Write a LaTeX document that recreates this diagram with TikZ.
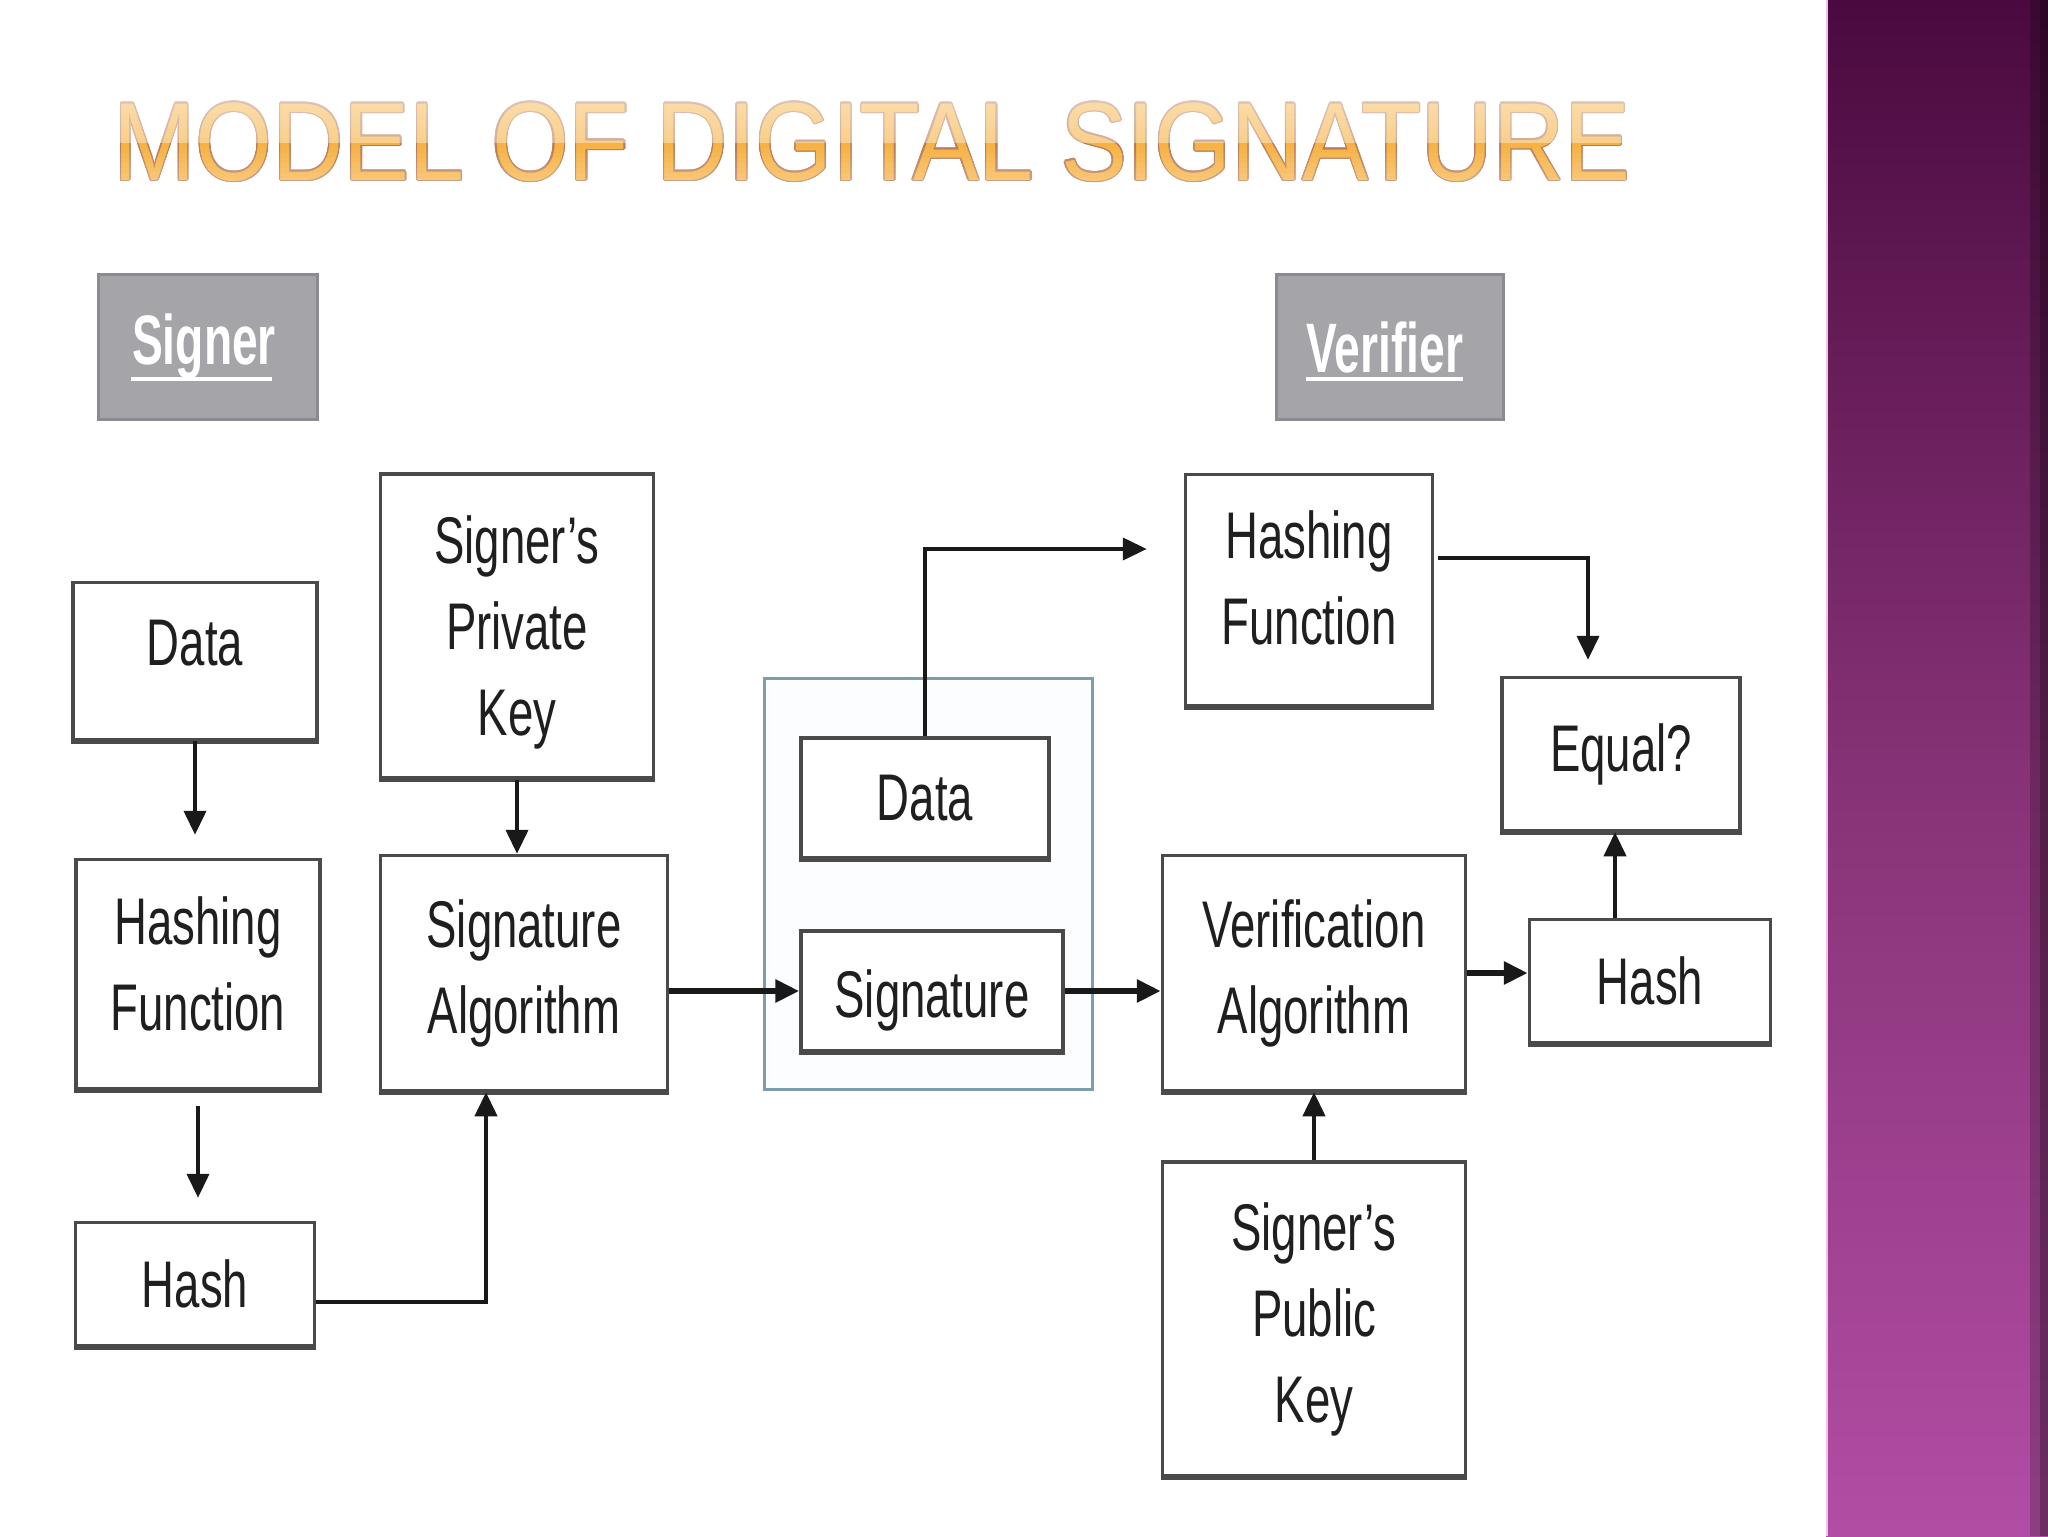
\documentclass[tikz,border=0pt]{standalone}
\usepackage{fontspec}
\usepackage{contour}
\usetikzlibrary{arrows.meta,calc}
\setmainfont{Liberation Sans}
\newfontfamily\boxfont[FakeStretch=0.69]{Liberation Sans}
\newfontfamily\tagfont[FakeStretch=0.66]{Liberation Sans}
\newfontfamily\titlefont[FakeStretch=0.89]{Liberation Sans}
\definecolor{boxline}{HTML}{4A4A4A}
\definecolor{tagfill}{HTML}{A5A4A8}
\definecolor{tagline}{HTML}{8C8B8F}
\definecolor{contline}{HTML}{7E9DAD}
\definecolor{contfill}{HTML}{FBFDFE}
\definecolor{titleor}{HTML}{F6B244}
\definecolor{titleline}{HTML}{B77A5A}
\definecolor{purpTop}{HTML}{4A0A3F}
\definecolor{purpMid}{HTML}{863276}
\definecolor{purpBot}{HTML}{B24DA4}
\definecolor{barline}{HTML}{F2C2EA}
\contourlength{0.6pt}
\begin{document}
\begin{tikzpicture}[x=0.5pt,y=-0.5pt,
  boxtext/.style={inner sep=0pt, align=center, font=\boxfont\fontsize{33}{43}\selectfont, text=black!88},
  box/.style={boxtext, draw=boxline, line width=1.75pt, fill=white},
  tag/.style={draw=tagline, line width=1.5pt, fill=tagfill, inner sep=0pt, text=white,
    font=\tagfont\bfseries\fontsize{35}{40}\selectfont},
  arr/.style={-{Triangle[length=12pt,width=11pt]}, line width=2pt, draw=black!90},
  thickarr/.style={arr, line width=3pt}]
\useasboundingbox (0,0) rectangle (2048,1536);
\fill[white] (0,0) rectangle (2048,1536);

% right purple bar
\shade[top color=purpTop, bottom color=purpBot, middle color=purpMid] (1826,0) rectangle (2048,1536);
\fill[black, opacity=0.2] (2030,0) rectangle (2040,1536);
\fill[black, opacity=0.4] (2040,0) rectangle (2048,1536);
\draw[barline, line width=1pt] (1827,0) -- (1827,1536);

% title
\node[anchor=base west, inner sep=0pt, font=\titlefont\fontsize{55.5}{60}\selectfont, text=titleor] (title) at (113,180) {\contour{titleline}{MODEL OF DIGITAL SIGNATURE}};
\foreach \i in {0,...,8} {
  \pgfmathsetmacro{\op}{0.55-0.02*\i}
  \fill[white, opacity=\op] (100,98+5*\i) rectangle (1660,103+5*\i);
}
\foreach \i in {0,...,7} {
  \pgfmathsetmacro{\op}{0.04*\i}
  \fill[white, opacity=\op] (100,143+5*\i) rectangle (1660,148+5*\i);
}

% tags
\node[tag, minimum width=109.5pt, minimum height=72.5pt] (signer) at (208,347) {\hspace*{-4pt}Signer};
\node[tag, minimum width=113.5pt, minimum height=72.5pt] (verifier) at (1390,347) {\hspace*{-5pt}Verifier};
\draw[white, line width=2pt] ($(signer.center)+(-77,32)$) -- ($(signer.center)+(64,32)$);
\draw[white, line width=2pt] ($(verifier.center)+(-84,32)$) -- ($(verifier.center)+(73,32)$);

% signer side
\node[box, minimum width=122pt, minimum height=78.5pt] (dataL) at (195,661) {};
\node[boxtext] (dataLt) at ($(dataL.center)+(0,-18)$) {Data};
\node[box, minimum width=122pt, minimum height=114.5pt] (hfL) at (198,974) {};
\node[boxtext] (hfLt) at ($(hfL.center)+(0,-10)$) {Hashing\\Function};
\node[box, minimum width=119.5pt, minimum height=61.5pt] (hashL) at (195,1284) {Hash};
\node[box, minimum width=136.5pt, minimum height=152pt] (pk) at (517,626) {};
\node[boxtext] (pkt) at ($(pk.center)+(0,6)$) {Signer’s\\Private\\Key};
\node[box, minimum width=143.5pt, minimum height=117.5pt] (sa) at (524,973) {Signature\\Algorithm};

% package
\node[draw=contline, line width=1.5pt, fill=contfill, inner sep=0pt, minimum width=164pt, minimum height=205.5pt] (pkg) at (928,883.5) {};
\node[box, minimum width=124pt, minimum height=60pt] (dataM) at (925,798) {Data};
\node[box, minimum width=131pt, minimum height=60pt] (sig) at (932,991) {};
\node[boxtext] (sigt) at ($(sig.center)+(0,9)$) {Signature};

% verifier side
\node[box, minimum width=123.5pt, minimum height=115.5pt] (hfR) at (1309,590) {};
\node[boxtext] (hfRt) at ($(hfR.center)+(0,-12)$) {Hashing\\Function};
\node[box, minimum width=119pt, minimum height=76.5pt] (eq) at (1621,754) {Equal?};
\node[box, minimum width=151.5pt, minimum height=117.5pt] (va) at (1314,973) {Verification\\Algorithm};
\node[box, minimum width=120.5pt, minimum height=61.5pt] (hashR) at (1650,981) {Hash};
\node[box, minimum width=151.5pt, minimum height=157pt] (pub) at (1314,1319) {Signer’s\\Public\\Key};

% heavier bottom edges
\foreach \n in {dataL,hfL,hashL,pk,sa,dataM,sig,hfR,eq,va,hashR,pub}
  \draw[boxline, line width=2.25pt] (\n.south west) -- (\n.south east);

% connectors
\draw[arr, shorten >=11.5pt] (dataL.south) -- (dataL.south |- hfL.north);
\draw[arr, shorten <=8pt, shorten >=11.5pt] (hfL.south) -- (hfL.south |- hashL.north);
\draw[arr] (pk.south) -- (pk.south |- sa.north);
\draw[arr] ($(hashL.east)+(0,18)$) -| ($(sa.south)+(-38,0)$);
\draw[thickarr] (sig.west -| sa.east) -- (sig.west);
\draw[arr, shorten >=18.5pt] (dataM.north) |- ($(hfR.west)+(0,-41)$);
\draw[thickarr] (sig.east) -- (sig.east -| va.west);
\draw[arr, shorten >=8pt] ($(hfR.east)+(4,-32)$) -| ($(eq.north)+(-33,0)$);
\draw[thickarr] (va.east) -- (va.east -| hashR.west);
\coordinate (hq) at ($(hashR.north)+(-35,0)$);
\draw[arr] (hq) -- (hq |- eq.south);
\draw[arr] (pub.north) -- (pub.north |- va.south);
\end{tikzpicture}
\end{document}
